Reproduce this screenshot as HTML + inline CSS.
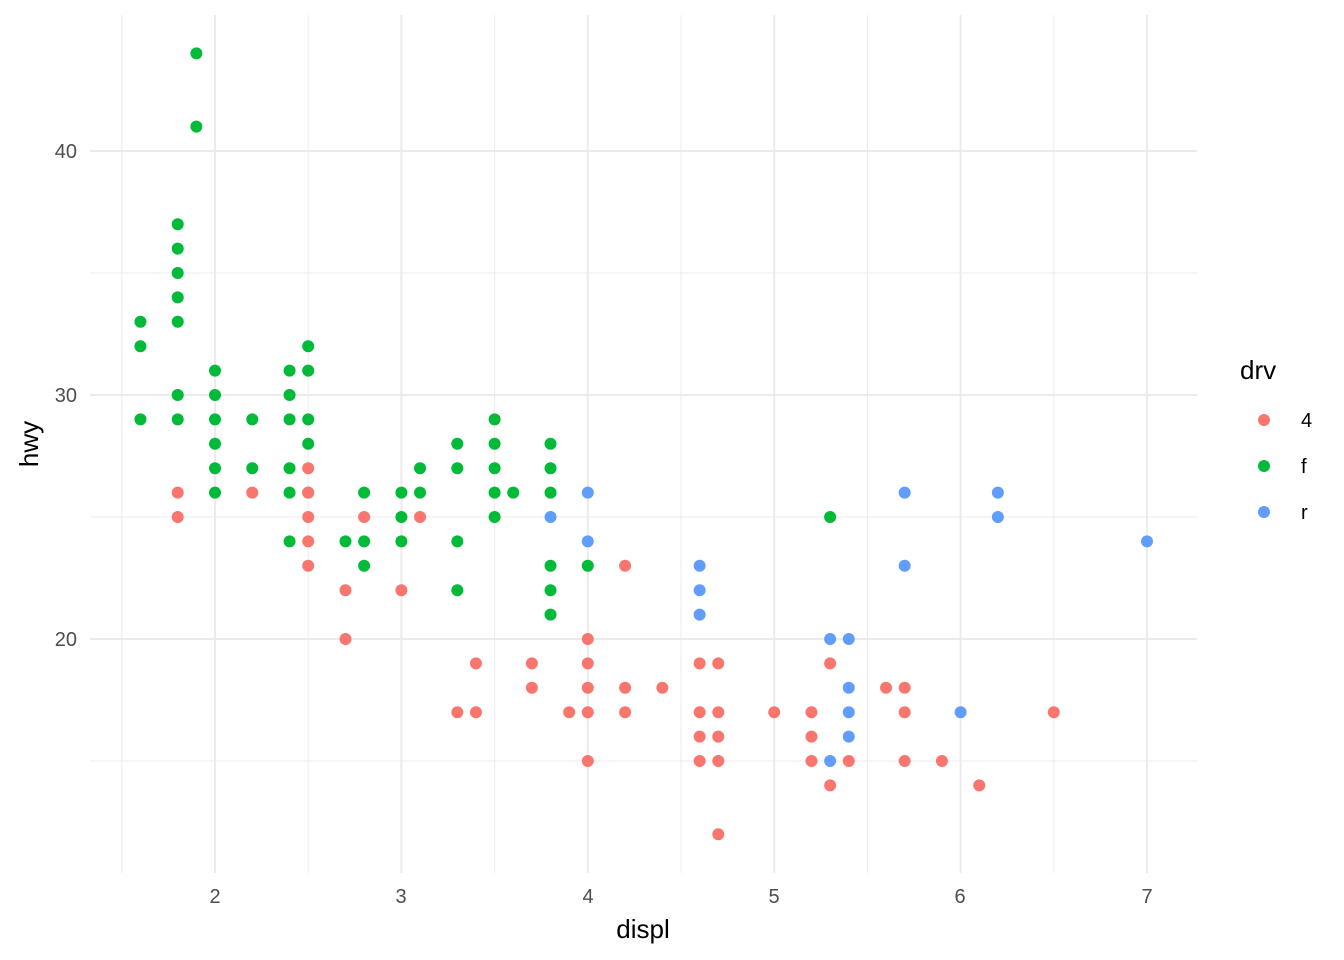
<!DOCTYPE html>
<html><head><meta charset="utf-8"><style>body{margin:0;background:#fff}svg{display:block}</style></head>
<body>
<svg id="s" width="1344" height="960" xmlns="http://www.w3.org/2000/svg" font-family="Liberation Sans, sans-serif">
<g id="grid"></g>
<g id="pts"></g>
<g fill="#4d4d4d" font-size="20" text-anchor="end">
<text x="77" y="158">40</text><text x="77" y="402">30</text><text x="77" y="646">20</text>
</g>
<g fill="#4d4d4d" font-size="20" text-anchor="middle">
<text x="215" y="903">2</text><text x="401" y="903">3</text><text x="588" y="903">4</text><text x="774" y="903">5</text><text x="960" y="903">6</text><text x="1147" y="903">7</text>
</g>
<text x="643" y="938" font-size="26" text-anchor="middle">displ</text>
<text transform="translate(38,444) rotate(-90)" font-size="26" text-anchor="middle">hwy</text>
<text x="1240" y="379" font-size="26">drv</text>
<circle cx="1264" cy="420" r="6" fill="#F8766D"/><circle cx="1264" cy="466" r="6" fill="#00BA38"/><circle cx="1264" cy="512" r="6" fill="#619CFF"/>
<g font-size="20"><text x="1301" y="427">4</text><text x="1301" y="473">f</text><text x="1301" y="519">r</text></g>
</svg>
<script>
const X=d=>215+(d-2)*186.4, Y=h=>639-(h-20)*24.4;
let g='';
for(const d of [1.5,2.5,3.5,4.5,5.5,6.5]) g+=`<line x1="${X(d)}" x2="${X(d)}" y1="15" y2="873" stroke="#ebebeb" stroke-width="1"/>`;
for(const h of [15,25,35]) g+=`<line x1="90" x2="1197" y1="${Y(h)}" y2="${Y(h)}" stroke="#ebebeb" stroke-width="1"/>`;
for(const d of [2,3,4,5,6,7]) g+=`<line x1="${X(d)}" x2="${X(d)}" y1="15" y2="873" stroke="#ebebeb" stroke-width="2"/>`;
for(const h of [20,30,40]) g+=`<line x1="90" x2="1197" y1="${Y(h)}" y2="${Y(h)}" stroke="#ebebeb" stroke-width="2"/>`;
document.getElementById('grid').innerHTML=g;
const G={1.6:[33,32,29],1.8:[37,36,35,34,33,30,29],1.9:[44,41],2.0:[31,30,29,28,27,26],2.2:[29,27],2.4:[31,30,29,27,26,24],2.5:[32,31,29,28,26],2.7:[24],2.8:[26,24,23],3.0:[26,25,24],3.1:[27,26],3.3:[28,27,24,22],3.5:[29,28,27,26,25],3.6:[26],3.8:[28,27,26,23,22,21],4.0:[23],5.3:[25]};
const R={1.8:[26,25],2.2:[26],2.5:[27,26,25,24,23],2.7:[22,20],2.8:[25],3.0:[22],3.1:[25],3.3:[17],3.4:[19,17],3.7:[19,18],3.9:[17],4.0:[20,19,18,17,15],4.2:[23,18,17],4.4:[18],4.6:[19,17,16,15],4.7:[19,17,16,15,12],5.0:[17],5.2:[17,16,15],5.3:[19,14],5.4:[15],5.6:[18],5.7:[18,17,15],5.9:[15],6.1:[14],6.5:[17]};
const B={3.8:[25],4.0:[26,24],4.6:[23,22,21],5.3:[20,15],5.4:[20,18,17,16],5.7:[26,23],6.0:[17],6.2:[26,25],7.0:[24]};
let p='';
for(const [M,c] of [[G,'#00BA38'],[R,'#F8766D'],[B,'#619CFF']])
 for(const d in M) for(const h of M[d]) p+=`<circle cx="${X(+d)}" cy="${Y(h)}" r="6" fill="${c}"/>`;
document.getElementById('pts').innerHTML=p;
</script>
</body></html>
